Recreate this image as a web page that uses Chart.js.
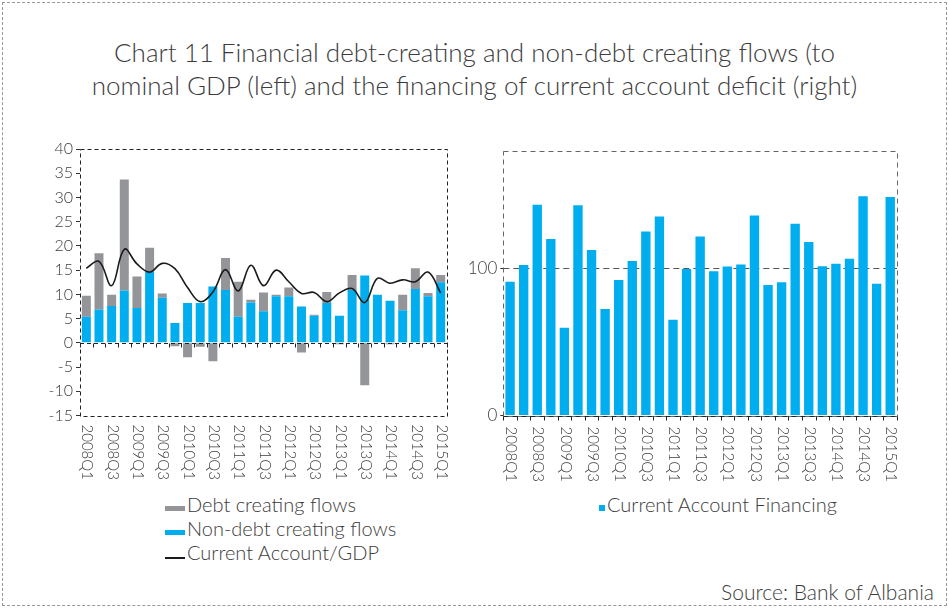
<!DOCTYPE html>
<html>
<head>
<meta charset="utf-8">
<script src="https://cdn.jsdelivr.net/npm/chart.js@4.4.0/dist/chart.umd.min.js"></script>
<style>
  body { margin: 0; background: #fff; font-family: Lato, "Open Sans", sans-serif; color: #3c3c3c; }
  #page { position: relative; width: 949px; height: 608px; overflow: hidden; }
  #frame { position: absolute; left: 2px; top: 2px; width: 945px; height: 604px; border: 1px dashed #999; box-sizing: border-box; }
  .txt { position: absolute; white-space: nowrap; line-height: 1; font-weight: 300; }
  .title { left: 0; width: 949px; text-align: center; font-size: 26px; }
  .leg { font-size: 20px; }
  .sw { position: absolute; }
  canvas { position: absolute; }
</style>
</head>
<body>
<div id="page">
  <div id="frame"></div>
  <div class="txt title" style="top:39px">Chart 11 Financial debt-creating and non-debt creating flows (to</div>
  <div class="txt title" style="top:72px">nominal GDP (left) and the financing of current account deficit (right)</div>

  <canvas id="left" width="460" height="360" style="left:0;top:130px"></canvas>
  <canvas id="right" width="489" height="360" style="left:460px;top:130px"></canvas>

  <div class="sw" style="left:165px;top:506px;width:20px;height:5px;background:#939598"></div>
  <div class="txt leg" style="left:187px;top:494px">Debt creating flows</div>
  <div class="sw" style="left:165px;top:530px;width:20px;height:5px;background:#00aeef"></div>
  <div class="txt leg" style="left:187px;top:518px">Non-debt creating flows</div>
  <div class="sw" style="left:165px;top:557px;width:20px;height:1.5px;background:#1a1a1a"></div>
  <div class="txt leg" style="left:187px;top:542px">Current Account/GDP</div>

  <div class="sw" style="left:599px;top:505px;width:6px;height:6px;background:#00aeef"></div>
  <div class="txt leg" style="left:607px;top:494px">Current Account Financing</div>

  <div class="txt leg" style="right:15px;top:580.5px;font-size:21px">Source: Bank of Albania</div>
</div>

<script>
// quarters
var categories = ['2008Q1', '2008Q2', '2008Q3', '2008Q4', '2009Q1', '2009Q2', '2009Q3', '2009Q4',
    '2010Q1', '2010Q2', '2010Q3', '2010Q4', '2011Q1', '2011Q2', '2011Q3', '2011Q4',
    '2012Q1', '2012Q2', '2012Q3', '2012Q4', '2013Q1', '2013Q2', '2013Q3', '2013Q4',
    '2014Q1', '2014Q2', '2014Q3', '2014Q4', '2015Q1'];
var tickLabels = ['2008Q1', '2008Q3', '2009Q1', '2009Q3', '2010Q1', '2010Q3', '2011Q1', '2011Q3',
    '2012Q1', '2012Q3', '2013Q1', '2013Q3', '2014Q1', '2014Q3', '2015Q1'];

// left chart, % of GDP
var nonDebtFlows = [5.4, 6.9, 7.6, 10.8, 7.2, 14.6, 9.3, 4.1, 8.2, 8.2, 11.6, 10.9, 5.4, 8.3, 6.5,
    9.6, 9.6, 7.5, 5.6, 8.2, 5.6, 10.9, 13.9, 9.9, 8.7, 6.7, 11.1, 9.6, 12.5];
var debtFlows = [4.3, 11.6, 2.3, 22.9, 6.5, 5.0, 0.9, -0.7, -3.0, -0.8, -3.8, 6.6, 7.2, 0.6, 3.9,
    0.3, 1.8, -2.0, 0.2, 2.3, -0.3, 3.1, -8.75, 0, -0.3, 3.2, 4.3, 0.7, 1.5];
var currentAccountGdp = [15.4, 16.8, 11.8, 19.3, 16.3, 14.6, 16.4, 15.3, 11.4, 8.5, 10.5, 15.1, 10.7,
    16.0, 11.8, 15.0, 12.6, 10.2, 10.4, 8.5, 10.3, 11.2, 8.3, 13.3, 12.3, 13.0, 12.6, 14.6, 10.3];

// right chart, % of current account deficit
var caFinancing = [91, 102.3, 143.3, 120, 59.7, 142.9, 112.5, 72.4, 92.1, 105, 125, 135.2, 65.1,
    99.6, 121.6, 98, 101.2, 102.7, 135.9, 88.7, 90.5, 130.4, 118, 101.4, 103.2, 106.6, 149, 89.6, 148.6];
var rightTicks = [0, 100];

var textColor = '#3c3c3c';
var fontFamily = 'Lato, "Open Sans", sans-serif';

// dashed plot frame, axis line with category ticks, rotated x labels
var framePlugin = {
    id: 'frame',
    beforeDatasetsDraw: function (chart, args, opts) {
        if (opts.refLine === undefined) return;
        var ctx = chart.ctx, a = chart.chartArea;
        var py = Math.round(chart.scales.y.getPixelForValue(opts.refLine)) + 0.5;
        ctx.save();
        ctx.strokeStyle = '#555';
        ctx.lineWidth = 1.2;
        ctx.setLineDash([6, 4]);
        ctx.beginPath();
        ctx.moveTo(a.left, py);
        ctx.lineTo(a.right, py);
        ctx.stroke();
        ctx.restore();
    },
    afterDatasetsDraw: function (chart, args, opts) {
        var ctx = chart.ctx, a = chart.chartArea;
        var x = chart.scales.x, y = chart.scales.y;
        var n = chart.data.labels.length;
        var w = a.width / n;
        ctx.save();
        ctx.strokeStyle = opts.color;
        ctx.lineWidth = 1;
        ctx.setLineDash(opts.dash);
        ctx.strokeRect(Math.round(a.left) + 0.5, Math.round(a.top) + 0.5,
            Math.round(a.width), Math.round(a.height));

        var y0 = Math.round(y.getPixelForValue(0)) + 0.5;
        ctx.strokeStyle = '#222';
        ctx.beginPath();
        ctx.moveTo(a.left, y0);
        ctx.lineTo(a.right, y0);
        ctx.stroke();
        ctx.setLineDash([]);
        ctx.beginPath();
        for (var i = 0; i <= n; i++) {
            var px = Math.round(a.left + i * w) + 0.5;
            ctx.moveTo(px, y0);
            ctx.lineTo(px, y0 + 4);
        }
        ctx.stroke();

        ctx.fillStyle = textColor;
        ctx.font = '300 15px ' + fontFamily;
        ctx.textAlign = 'left';
        ctx.textBaseline = 'middle';
        tickLabels.forEach(function (lbl) {
            var idx = chart.data.labels.indexOf(lbl);
            var px = x.getPixelForValue(idx);
            ctx.save();
            ctx.translate(px + 1, a.bottom + opts.labelGap);
            ctx.rotate(Math.PI / 2);
            ctx.fillText(lbl, 0, 0);
            ctx.restore();
        });
        ctx.restore();
    }
};

// left chart
new Chart(document.getElementById('left').getContext('2d'), {
    type: 'bar',
    data: {
        labels: categories,
        datasets: [{
            label: 'Non-debt creating flows',
            data: nonDebtFlows,
            backgroundColor: '#00aeef',
            stack: 'flows',
            order: 1
        }, {
            label: 'Debt creating flows',
            data: debtFlows,
            backgroundColor: '#939598',
            stack: 'flows',
            order: 1
        }, {
            type: 'line',
            label: 'Current Account/GDP',
            data: currentAccountGdp,
            borderColor: '#1a1a1a',
            borderWidth: 1.6,
            pointRadius: 0,
            tension: 0.4,
            stack: 'line',
            order: 0
        }]
    },
    options: {
        responsive: false,
        animation: false,
        layout: { padding: { top: 19, right: 13, bottom: 74.5, left: 0 } },
        datasets: { bar: { barPercentage: 0.71, categoryPercentage: 1.0 } },
        scales: {
            x: { display: false, stacked: true },
            y: {
                stacked: true,
                min: -15,
                max: 40,
                ticks: { stepSize: 5, color: textColor, font: { family: fontFamily, size: 16, weight: 300 }, padding: 3 },
                grid: { drawOnChartArea: false, tickLength: 4, color: '#333' },
                border: { display: false },
                afterFit: function (scale) { scale.width = 80; }
            }
        },
        plugins: {
            legend: { display: false },
            tooltip: { enabled: false },
            frame: { color: '#222', dash: [4, 3], labelGap: 9 }
        }
    },
    plugins: [framePlugin]
});

// right chart
new Chart(document.getElementById('right').getContext('2d'), {
    type: 'bar',
    data: {
        labels: categories,
        datasets: [{
            label: 'Current Account Financing',
            data: caFinancing,
            backgroundColor: '#00aeef',
            barPercentage: 0.69,
            categoryPercentage: 1.0
        }]
    },
    options: {
        responsive: false,
        animation: false,
        layout: { padding: { top: 20.7, right: 52, bottom: 74.5, left: 0 } },
        scales: {
            x: { display: false },
            y: {
                min: 0,
                max: 180,
                afterBuildTicks: function (scale) {
                    scale.ticks = rightTicks.map(function (v) { return { value: v }; });
                },
                ticks: { color: textColor, font: { family: fontFamily, size: 17, weight: 300 }, padding: 3 },
                grid: { drawOnChartArea: false, tickLength: 3, color: '#333' },
                border: { display: false },
                afterFit: function (scale) { scale.width = 43.3; }
            }
        },
        plugins: {
            legend: { display: false },
            tooltip: { enabled: false },
            frame: { color: '#666', dash: [5, 4], labelGap: 11, refLine: 100 }
        }
    },
    plugins: [framePlugin]
});
</script>
</body>
</html>
